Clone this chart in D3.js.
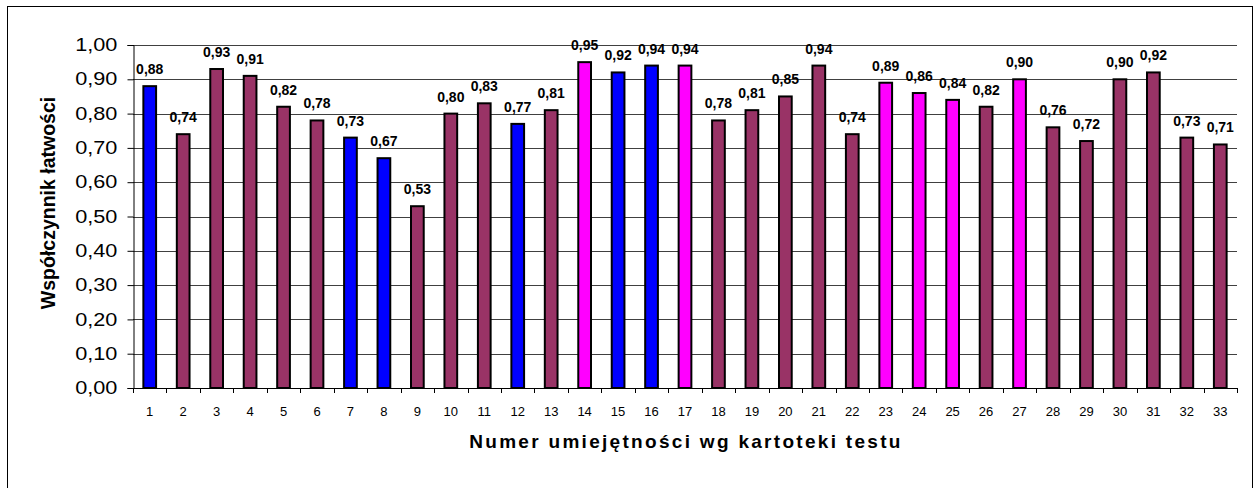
<!DOCTYPE html>
<html>
<head>
<meta charset="utf-8">
<script src="https://cdn.jsdelivr.net/npm/d3@7"></script>
<style>
  body { margin: 0; background: #fff; }
  svg { display: block; font-family: "Liberation Sans", Arial, sans-serif; }
</style>
</head>
<body>
<script>
const WIDTH = 1258;
const HEIGHT = 488;

// numer umiejętności
const categories = d3.range(1, 34).map(String);
// współczynnik łatwości
const values = [0.88, 0.74, 0.93, 0.91, 0.82, 0.78, 0.73, 0.67, 0.53, 0.80, 0.83,
    0.77, 0.81, 0.95, 0.92, 0.94, 0.94, 0.78, 0.81, 0.85, 0.94, 0.74, 0.89, 0.86,
    0.84, 0.82, 0.90, 0.76, 0.72, 0.90, 0.92, 0.73, 0.71];
// grupa koloru słupka
const groups = ['b', 'm', 'm', 'm', 'm', 'm', 'b', 'b', 'm', 'm', 'm', 'b', 'm', 'p',
    'b', 'b', 'p', 'm', 'm', 'm', 'm', 'm', 'p', 'p', 'p', 'm', 'p', 'm', 'm', 'm',
    'm', 'm', 'm'];
const yTicks = d3.range(0, 11).map(i => i / 10);

const groupColor = { b: '#0000ff', m: '#993366', p: '#ff00ff' };
const fmt = v => v.toFixed(2).replace('.', ',');

const margin = { left: 133, right: 21, top: 45, bottom: 100 };
const plotRight = WIDTH - margin.right;
const plotBottom = HEIGHT - margin.bottom;

const svg = d3.select('body').append('svg')
    .attr('width', WIDTH)
    .attr('height', HEIGHT)
    .attr('viewBox', [0, 0, WIDTH, HEIGHT]);

// ramka wykresu
svg.append('rect')
    .attr('x', 7.5).attr('y', 6.5)
    .attr('width', 1245).attr('height', 500)
    .attr('fill', 'none')
    .attr('stroke', '#000');

const x = d3.scaleBand()
    .domain(categories)
    .range([margin.left, plotRight])
    .paddingInner(0.56)
    .paddingOuter(0.28);

const y = d3.scaleLinear()
    .domain([0, 1])
    .range([plotBottom, margin.top]);

// linie siatki
svg.append('g')
    .attr('stroke', '#404040')
    .selectAll('line')
    .data(yTicks.slice(1))
    .join('line')
        .attr('x1', margin.left).attr('x2', plotRight)
        .attr('y1', d => Math.round(y(d)) + 0.5)
        .attr('y2', d => Math.round(y(d)) + 0.5);

// słupki
svg.append('g')
    .selectAll('rect')
    .data(values)
    .join('rect')
        .attr('x', (d, i) => x(categories[i]) + 1)
        .attr('y', d => y(d))
        .attr('width', x.bandwidth() - 2)
        .attr('height', d => y(0) - y(d))
        .attr('fill', (d, i) => groupColor[groups[i]])
        .attr('stroke', '#000')
        .attr('stroke-width', 2);

// etykiety wartości
svg.append('g')
    .attr('font-size', 14)
    .attr('font-weight', 'bold')
    .attr('text-anchor', 'middle')
    .selectAll('text')
    .data(values)
    .join('text')
        .attr('x', (d, i) => x(categories[i]) + x.bandwidth() / 2)
        .attr('y', d => y(d) - 12)
        .text(fmt);

// oś Y
const yAxis = svg.append('g')
    .attr('transform', `translate(${margin.left + 0.5},0)`)
    .call(d3.axisLeft(y).tickValues(yTicks).tickFormat(fmt).tickSize(6).tickPadding(7));
yAxis.select('.domain').attr('stroke', '#000');
yAxis.selectAll('text')
    .attr('font-size', 17.5)
    .attr('font-family', '"Liberation Sans", Arial, sans-serif')
    .attr('fill', '#000')
    .attr('transform', 'scale(1.24,1)');

// oś X
const step = x.step();
const gap = (step - x.bandwidth()) / 2;
const xAxis = svg.append('g');
xAxis.append('line')
    .attr('x1', margin.left).attr('x2', plotRight)
    .attr('y1', plotBottom + 0.5).attr('y2', plotBottom + 0.5)
    .attr('stroke', '#000');
xAxis.selectAll('line.tick')
    .data(categories.concat(['end']))
    .join('line')
        .attr('class', 'tick')
        .attr('x1', (d, i) => Math.round(i < categories.length ? x(d) - gap : plotRight) + 0.5)
        .attr('x2', (d, i) => Math.round(i < categories.length ? x(d) - gap : plotRight) + 0.5)
        .attr('y1', plotBottom).attr('y2', plotBottom + 5)
        .attr('stroke', '#000');
xAxis.selectAll('text')
    .data(categories)
    .join('text')
        .attr('x', d => x(d) + x.bandwidth() / 2)
        .attr('y', plotBottom + 28)
        .attr('text-anchor', 'middle')
        .attr('font-size', 13)
        .text(d => d);

// tytuły osi
svg.append('text')
    .attr('transform', 'translate(55,203) rotate(-90)')
    .attr('text-anchor', 'middle')
    .attr('font-size', 19.5)
    .attr('font-weight', 'bold')
    .text('Współczynnik łatwości');

svg.append('text')
    .attr('x', 686)
    .attr('y', 448)
    .attr('text-anchor', 'middle')
    .attr('font-size', 19)
    .attr('font-weight', 'bold')
    .attr('letter-spacing', 2.3)
    .text('Numer umiejętności wg kartoteki testu');
</script>
</body>
</html>
